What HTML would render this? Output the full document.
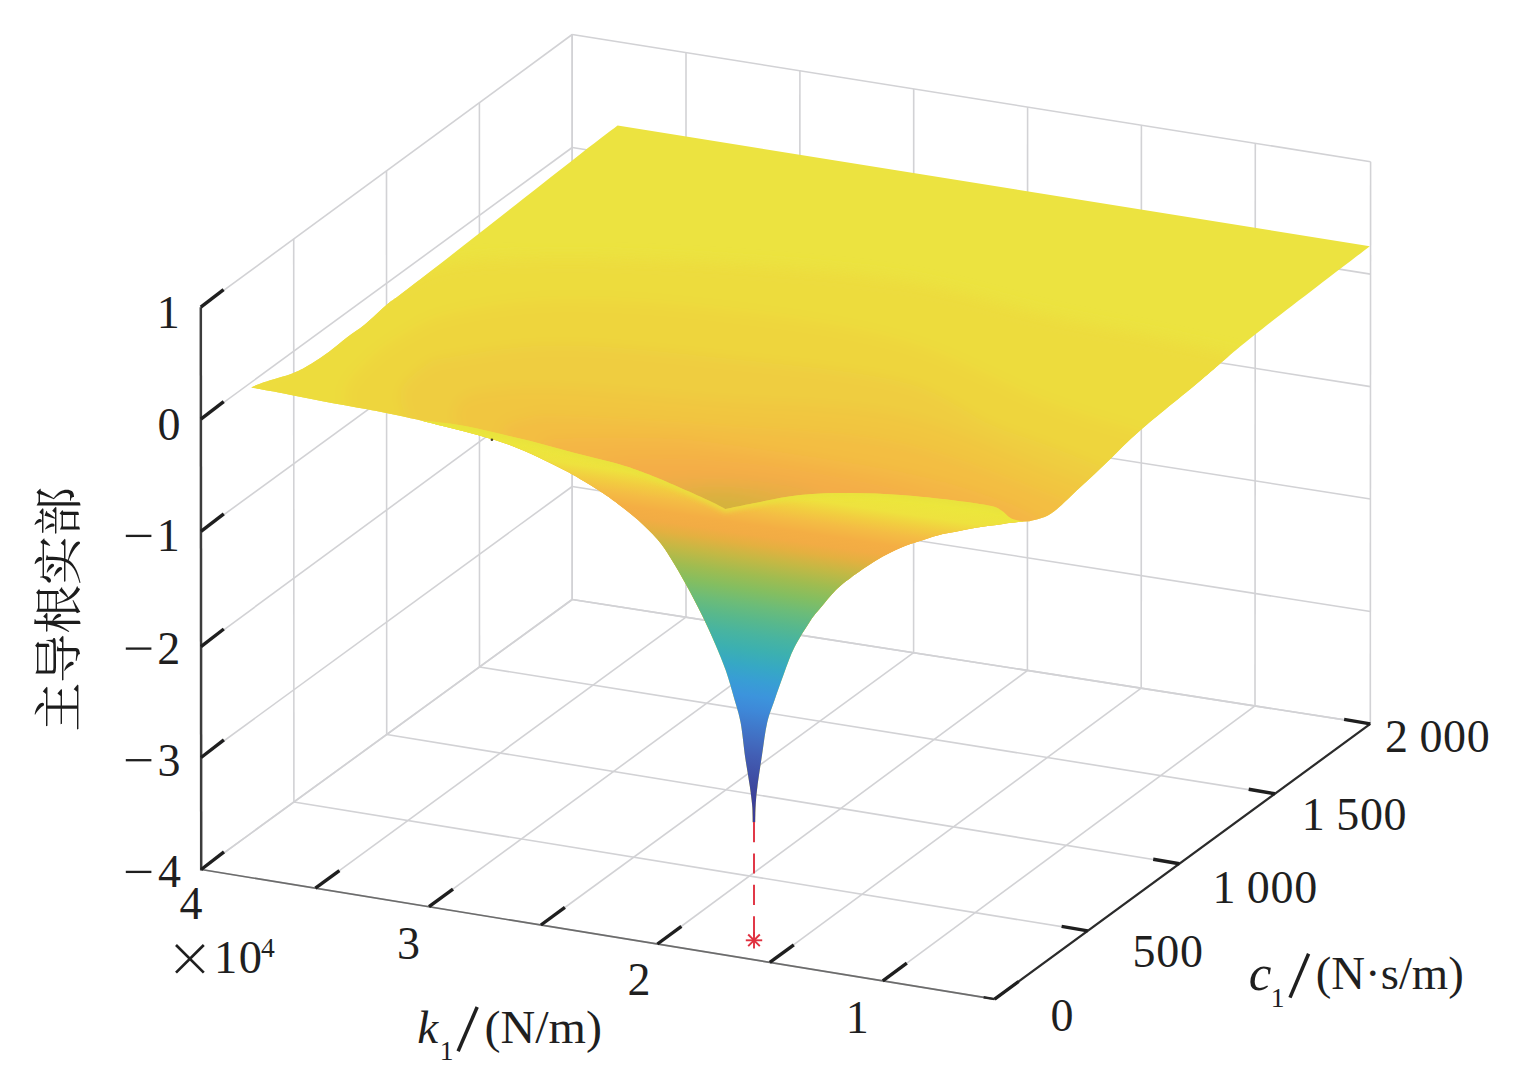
<!DOCTYPE html>
<html><head><meta charset="utf-8"><title>surface</title><style>
html,body{margin:0;padding:0;background:#fff}
svg{display:block}
.grid line{stroke:#d2d2d5;stroke-width:1.6}
.kax{stroke:#6c6c6c;stroke-width:1.6}
.cax{stroke:#2b2b2b;stroke-width:2.2}
.zax{stroke:#3c3c3c;stroke-width:2.5}
.tick{stroke:#1f1f1f;stroke-width:3.4}
.red line{stroke:#e0303f;stroke-width:1.9}
.lbl text{font-family:"Liberation Serif",serif;fill:#1f1f1f}
.sl{stroke:#1f1f1f;stroke-width:3;fill:none}
</style></head><body>
<svg width="1515" height="1089" viewBox="0 0 1515 1089">
<g class="grid"><line x1="201.2" y1="869.5" x2="572.2" y2="599.5"/><line x1="572.2" y1="599.5" x2="572.2" y2="34.5"/><line x1="315.4" y1="888.2" x2="686.0" y2="617.2"/><line x1="686.0" y1="617.2" x2="686.0" y2="52.6"/><line x1="429.0" y1="906.7" x2="799.8" y2="635.0"/><line x1="799.8" y1="635.0" x2="799.9" y2="70.8"/><line x1="540.9" y1="925.0" x2="913.6" y2="652.7"/><line x1="913.6" y1="652.7" x2="913.7" y2="88.9"/><line x1="657.4" y1="944.0" x2="1027.4" y2="670.5"/><line x1="1027.4" y1="670.5" x2="1027.6" y2="107.0"/><line x1="769.8" y1="962.4" x2="1141.2" y2="688.2"/><line x1="1141.2" y1="688.2" x2="1141.4" y2="125.2"/><line x1="882.8" y1="980.8" x2="1255.0" y2="705.9"/><line x1="1255.0" y1="705.9" x2="1255.3" y2="143.3"/><line x1="994.6" y1="999.1" x2="1370.3" y2="723.9"/><line x1="1370.3" y1="723.9" x2="1370.6" y2="161.7"/><line x1="201.2" y1="869.5" x2="994.6" y2="999.1"/><line x1="201.2" y1="869.5" x2="200.8" y2="307.2"/><line x1="293.9" y1="802.0" x2="1087.8" y2="930.9"/><line x1="293.9" y1="802.0" x2="293.7" y2="239.0"/><line x1="386.7" y1="734.5" x2="1179.4" y2="863.7"/><line x1="386.7" y1="734.5" x2="386.5" y2="170.8"/><line x1="479.5" y1="667.0" x2="1274.9" y2="793.8"/><line x1="479.5" y1="667.0" x2="479.4" y2="102.7"/><line x1="572.2" y1="599.5" x2="1370.3" y2="723.9"/><line x1="572.2" y1="599.5" x2="572.2" y2="34.5"/><line x1="201.2" y1="869.5" x2="572.2" y2="599.5"/><line x1="572.2" y1="599.5" x2="1370.3" y2="723.9"/><line x1="201.1" y1="757.5" x2="572.2" y2="486.5"/><line x1="572.2" y1="486.5" x2="1370.4" y2="611.5"/><line x1="201.0" y1="646.6" x2="572.2" y2="373.5"/><line x1="572.2" y1="373.5" x2="1370.4" y2="499.0"/><line x1="201.0" y1="531.4" x2="572.2" y2="260.5"/><line x1="572.2" y1="260.5" x2="1370.5" y2="386.6"/><line x1="200.9" y1="419.2" x2="572.2" y2="147.5"/><line x1="572.2" y1="147.5" x2="1370.5" y2="274.1"/><line x1="200.8" y1="307.2" x2="572.2" y2="34.5"/><line x1="572.2" y1="34.5" x2="1370.6" y2="161.7"/></g>
<defs><clipPath id="wc"><path d="M420,420.2C424.2,420.7 436.7,421.9 445.0,423.0C453.3,424.1 460.9,425.2 470.0,427.0C479.1,428.8 489.8,431.5 499.7,433.8C509.6,436.1 519.5,438.2 529.4,440.7C539.3,443.2 549.2,446.0 559.1,448.7C569.0,451.4 578.6,454.0 588.8,456.6C598.9,459.2 611.5,462.1 620.0,464.5C628.5,466.9 633.5,468.8 640.0,471.2C646.5,473.6 651.1,475.3 659.3,478.7C667.5,482.1 679.1,487.2 689.0,491.6C698.9,496.1 712.7,502.5 718.7,505.4C724.7,508.3 724.1,508.3 725.2,508.9C729.4,508.1 737.7,506.2 750.2,503.9C762.7,501.6 783.6,496.9 800.3,495.1C817.0,493.3 833.8,493.1 850.5,493.1C867.2,493.1 884.0,493.9 900.7,495.1C917.4,496.3 936.2,498.4 950.8,500.1C965.4,501.9 980.0,503.9 988.4,505.6C996.8,507.3 997.2,508.1 1001.0,510.2C1004.8,512.3 1007.2,516.3 1011.0,518.2C1014.8,520.1 1021.5,520.9 1023.6,521.4C1020.2,521.8 1011.1,522.8 1003.1,523.9C995.1,525.0 983.8,526.4 975.9,527.7C968.0,529.0 961.9,530.5 955.6,531.8C949.3,533.0 944.5,533.6 938.3,535.2C932.1,536.8 924.5,539.4 918.2,541.5C911.9,543.6 907.7,544.7 900.7,547.8C893.7,550.9 884.8,555.3 876.4,560.3C868.0,565.3 857.3,572.9 850.5,577.9C843.7,582.9 840.4,585.4 835.4,590.4C830.4,595.4 824.6,603.0 820.4,608.0C816.2,613.0 814.7,614.2 810.4,620.7C806.1,627.2 799.0,638.3 794.6,647.1C790.2,655.9 787.3,664.7 784.0,673.5C780.7,682.3 777.4,691.7 774.6,699.9C771.8,708.1 769.3,713.5 767.2,722.5C765.1,731.5 763.8,743.1 762.2,753.8C760.6,764.5 758.5,778.3 757.4,786.8C756.3,795.2 756.1,799.8 755.7,804.5C755.4,809.2 755.4,812.0 755.3,815.0C755.2,818.0 755.2,821.0 755.2,822.2L752.7,822.2C752.7,821.0 752.7,818.0 752.6,815.0C752.5,812.0 752.6,809.2 752.1,804.5C751.6,799.8 751.0,794.6 749.9,786.8C748.8,779.0 746.8,768.2 745.2,757.5C743.7,746.8 742.4,732.1 740.6,722.5C738.8,712.9 737.1,708.5 734.6,699.9C732.1,691.3 729.1,680.0 725.9,670.8C722.7,661.5 719.3,653.6 715.4,644.4C711.5,635.2 707.1,625.4 702.2,615.4C697.3,605.4 691.1,593.8 686.0,584.5C680.9,575.2 676.2,567.0 671.5,559.5C666.8,552.0 663.2,546.2 657.6,539.6C652.0,533.0 644.4,525.7 637.8,519.8C631.2,513.9 624.6,508.9 618.0,504.0C611.4,499.1 606.5,495.4 598.2,490.1C590.0,484.8 578.4,477.8 568.5,472.3C558.6,466.9 548.7,462.0 538.8,457.4C528.9,452.8 519.0,448.5 509.1,444.8C499.2,441.1 489.3,438.2 479.4,435.4C469.5,432.6 459.6,430.3 449.7,427.8C439.8,425.3 424.9,421.5 420.0,420.2Z"/></clipPath><filter id="b2" x="-5%" y="-30%" width="110%" height="160%"><feGaussianBlur stdDeviation="2.6"/></filter><clipPath id="sc"><path d="M251.3,387.4C253.4,386.5 256.9,384.7 263.8,382.3C270.7,379.9 285.0,376.3 292.9,373.2C300.8,370.1 305.3,367.3 311.3,363.7C317.3,360.1 323.2,356.2 329.1,351.8C335.0,347.4 340.9,342.1 346.9,337.5C352.8,332.9 358.1,330.0 364.8,324.5C371.5,319.0 380.4,310.1 387.3,304.3C394.2,298.6 391.0,301.8 406.3,290.0C421.6,278.2 451.4,255.2 479.0,233.6C506.6,212.0 549.1,178.4 572.2,160.4C595.3,142.4 610.0,131.4 617.6,125.6L1369.8,246.2C1350.6,261.0 1282.6,312.7 1254.5,335.0C1226.4,357.3 1220.2,364.1 1201.2,380.0C1182.2,395.9 1155.6,417.0 1140.4,430.2C1125.2,443.4 1120.2,449.6 1110.1,459.2C1100.0,468.8 1089.8,478.5 1080.0,487.6C1070.2,496.7 1059.5,508.0 1051.1,513.6C1042.7,519.2 1033.1,520.0 1029.5,521.3L1023.6,521.4C1020.2,521.8 1011.1,522.8 1003.1,523.9C995.1,525.0 983.8,526.4 975.9,527.7C968.0,529.0 961.9,530.5 955.6,531.8C949.3,533.0 944.5,533.6 938.3,535.2C932.1,536.8 924.5,539.4 918.2,541.5C911.9,543.6 907.7,544.7 900.7,547.8C893.7,550.9 884.8,555.3 876.4,560.3C868.0,565.3 857.3,572.9 850.5,577.9C843.7,582.9 840.4,585.4 835.4,590.4C830.4,595.4 824.6,603.0 820.4,608.0C816.2,613.0 814.7,614.2 810.4,620.7C806.1,627.2 799.0,638.3 794.6,647.1C790.2,655.9 787.3,664.7 784.0,673.5C780.7,682.3 777.4,691.7 774.6,699.9C771.8,708.1 769.3,713.5 767.2,722.5C765.1,731.5 763.8,743.1 762.2,753.8C760.6,764.5 758.5,778.3 757.4,786.8C756.3,795.2 756.1,799.8 755.7,804.5C755.4,809.2 755.4,812.0 755.3,815.0C755.2,818.0 755.2,821.0 755.2,822.2L752.7,822.2C752.7,821.0 752.7,818.0 752.6,815.0C752.5,812.0 752.6,809.2 752.1,804.5C751.6,799.8 751.0,794.6 749.9,786.8C748.8,779.0 746.8,768.2 745.2,757.5C743.7,746.8 742.4,732.1 740.6,722.5C738.8,712.9 737.1,708.5 734.6,699.9C732.1,691.3 729.1,680.0 725.9,670.8C722.7,661.5 719.3,653.6 715.4,644.4C711.5,635.2 707.1,625.4 702.2,615.4C697.3,605.4 691.1,593.8 686.0,584.5C680.9,575.2 676.2,567.0 671.5,559.5C666.8,552.0 663.2,546.2 657.6,539.6C652.0,533.0 644.4,525.7 637.8,519.8C631.2,513.9 624.6,508.9 618.0,504.0C611.4,499.1 606.5,495.4 598.2,490.1C590.0,484.8 578.4,477.8 568.5,472.3C558.6,466.9 548.7,462.0 538.8,457.4C528.9,452.8 519.0,448.5 509.1,444.8C499.2,441.1 489.3,438.2 479.4,435.4C469.5,432.6 459.6,430.3 449.7,427.8C439.8,425.3 424.9,421.5 420.0,420.2C411.5,418.4 385.2,412.8 368.8,409.6C352.4,406.4 337.1,403.9 321.3,400.9C305.5,397.9 285.5,393.9 273.8,391.6C262.1,389.4 255.1,388.1 251.3,387.4Z"/></clipPath><filter id="bl" x="-10%" y="-10%" width="120%" height="130%"><feGaussianBlur stdDeviation="7"/></filter><linearGradient id="lg" gradientUnits="userSpaceOnUse" x1="760" y1="465.0" x2="707.6" y2="814.1"><stop offset="0.0000" stop-color="#e9e63c"/><stop offset="0.0420" stop-color="#ece63c"/><stop offset="0.0756" stop-color="#eee23e"/><stop offset="0.1092" stop-color="#f2cc40"/><stop offset="0.1373" stop-color="#f4bc44"/><stop offset="0.1709" stop-color="#f4ae44"/><stop offset="0.1989" stop-color="#f2ac44"/><stop offset="0.2269" stop-color="#e4b040"/><stop offset="0.2661" stop-color="#c4b844"/><stop offset="0.3109" stop-color="#a0bc50"/><stop offset="0.3529" stop-color="#84be60"/><stop offset="0.3950" stop-color="#6cbc78"/><stop offset="0.4370" stop-color="#58b88c"/><stop offset="0.4790" stop-color="#48b4a0"/><stop offset="0.5210" stop-color="#3cb0b0"/><stop offset="0.5658" stop-color="#36a8c4"/><stop offset="0.6078" stop-color="#389ed4"/><stop offset="0.6499" stop-color="#3c94dc"/><stop offset="0.6919" stop-color="#3e88d8"/><stop offset="0.7339" stop-color="#407acc"/><stop offset="0.7759" stop-color="#426cc0"/><stop offset="0.8179" stop-color="#425eb4"/><stop offset="0.8627" stop-color="#4052a8"/><stop offset="0.9048" stop-color="#3e489e"/><stop offset="0.9468" stop-color="#3c4098"/><stop offset="1.0000" stop-color="#3a3a94"/></linearGradient></defs><path d="M251.3,387.4C253.4,386.5 256.9,384.7 263.8,382.3C270.7,379.9 285.0,376.3 292.9,373.2C300.8,370.1 305.3,367.3 311.3,363.7C317.3,360.1 323.2,356.2 329.1,351.8C335.0,347.4 340.9,342.1 346.9,337.5C352.8,332.9 358.1,330.0 364.8,324.5C371.5,319.0 380.4,310.1 387.3,304.3C394.2,298.6 391.0,301.8 406.3,290.0C421.6,278.2 451.4,255.2 479.0,233.6C506.6,212.0 549.1,178.4 572.2,160.4C595.3,142.4 610.0,131.4 617.6,125.6L1369.8,246.2C1350.6,261.0 1282.6,312.7 1254.5,335.0C1226.4,357.3 1220.2,364.1 1201.2,380.0C1182.2,395.9 1155.6,417.0 1140.4,430.2C1125.2,443.4 1120.2,449.6 1110.1,459.2C1100.0,468.8 1089.8,478.5 1080.0,487.6C1070.2,496.7 1059.5,508.0 1051.1,513.6C1042.7,519.2 1033.1,520.0 1029.5,521.3L1023.6,521.4C1020.2,521.8 1011.1,522.8 1003.1,523.9C995.1,525.0 983.8,526.4 975.9,527.7C968.0,529.0 961.9,530.5 955.6,531.8C949.3,533.0 944.5,533.6 938.3,535.2C932.1,536.8 924.5,539.4 918.2,541.5C911.9,543.6 907.7,544.7 900.7,547.8C893.7,550.9 884.8,555.3 876.4,560.3C868.0,565.3 857.3,572.9 850.5,577.9C843.7,582.9 840.4,585.4 835.4,590.4C830.4,595.4 824.6,603.0 820.4,608.0C816.2,613.0 814.7,614.2 810.4,620.7C806.1,627.2 799.0,638.3 794.6,647.1C790.2,655.9 787.3,664.7 784.0,673.5C780.7,682.3 777.4,691.7 774.6,699.9C771.8,708.1 769.3,713.5 767.2,722.5C765.1,731.5 763.8,743.1 762.2,753.8C760.6,764.5 758.5,778.3 757.4,786.8C756.3,795.2 756.1,799.8 755.7,804.5C755.4,809.2 755.4,812.0 755.3,815.0C755.2,818.0 755.2,821.0 755.2,822.2L752.7,822.2C752.7,821.0 752.7,818.0 752.6,815.0C752.5,812.0 752.6,809.2 752.1,804.5C751.6,799.8 751.0,794.6 749.9,786.8C748.8,779.0 746.8,768.2 745.2,757.5C743.7,746.8 742.4,732.1 740.6,722.5C738.8,712.9 737.1,708.5 734.6,699.9C732.1,691.3 729.1,680.0 725.9,670.8C722.7,661.5 719.3,653.6 715.4,644.4C711.5,635.2 707.1,625.4 702.2,615.4C697.3,605.4 691.1,593.8 686.0,584.5C680.9,575.2 676.2,567.0 671.5,559.5C666.8,552.0 663.2,546.2 657.6,539.6C652.0,533.0 644.4,525.7 637.8,519.8C631.2,513.9 624.6,508.9 618.0,504.0C611.4,499.1 606.5,495.4 598.2,490.1C590.0,484.8 578.4,477.8 568.5,472.3C558.6,466.9 548.7,462.0 538.8,457.4C528.9,452.8 519.0,448.5 509.1,444.8C499.2,441.1 489.3,438.2 479.4,435.4C469.5,432.6 459.6,430.3 449.7,427.8C439.8,425.3 424.9,421.5 420.0,420.2C411.5,418.4 385.2,412.8 368.8,409.6C352.4,406.4 337.1,403.9 321.3,400.9C305.5,397.9 285.5,393.9 273.8,391.6C262.1,389.4 255.1,388.1 251.3,387.4Z" fill="#ece340"/><g clip-path="url(#sc)"><g filter="url(#bl)"><path d="M236,388C244.7,383.7 271.0,371.8 288.0,362.0C305.0,352.2 320.7,341.2 338.0,329.0C355.3,316.8 373.3,299.8 392.0,289.0C410.7,278.2 422.0,269.2 450.0,264.0C478.0,258.8 515.8,258.2 560.0,258.0C604.2,257.8 658.3,259.3 715.0,263.0C771.7,266.7 844.2,271.2 900.0,280.0C955.8,288.8 1008.3,306.7 1050.0,316.0C1091.7,325.3 1118.3,329.3 1150.0,336.0C1181.7,342.7 1225.0,352.7 1240.0,356.0L1280,416L1280,640L196,640L196,428Z" fill="#eddc3e"/><path d="M352,420C351.0,415.0 343.3,399.7 346.0,390.0C348.7,380.3 359.0,370.7 368.0,362.0C377.0,353.3 386.3,345.8 400.0,338.0C413.7,330.2 423.3,321.2 450.0,315.0C476.7,308.8 515.8,301.8 560.0,301.0C604.2,300.2 658.3,303.3 715.0,310.0C771.7,316.7 844.2,325.3 900.0,341.0C955.8,356.7 1008.3,388.2 1050.0,404.0C1091.7,419.8 1127.5,428.0 1150.0,436.0C1172.5,444.0 1179.2,449.3 1185.0,452.0L1225,512L1225,640L312,640L312,460Z" fill="#eed53e"/><path d="M410,428C408.3,422.0 397.7,402.3 400.0,392.0C402.3,381.7 415.7,371.8 424.0,366.0C432.3,360.2 427.3,360.5 450.0,357.0C472.7,353.5 515.8,345.0 560.0,345.0C604.2,345.0 658.3,351.0 715.0,357.0C771.7,363.0 854.2,369.8 900.0,381.0C945.8,392.2 965.0,413.2 990.0,424.0C1015.0,434.8 1027.5,437.3 1050.0,446.0C1072.5,454.7 1112.5,471.0 1125.0,476.0L1165,536L1165,640L370,640L370,468Z" fill="#efcd3f"/><path d="M460,438C459.2,433.0 451.7,415.7 455.0,408.0C458.3,400.3 462.5,395.3 480.0,392.0C497.5,388.7 520.8,386.7 560.0,388.0C599.2,389.3 658.3,395.5 715.0,400.0C771.7,404.5 844.2,403.3 900.0,415.0C955.8,426.7 1016.7,457.5 1050.0,470.0C1083.3,482.5 1091.7,486.7 1100.0,490.0L1140,550L1140,640L420,640L420,478Z" fill="#f1c641"/><path d="M510,452C508.8,448.0 499.7,433.7 503.0,428.0C506.3,422.3 520.5,420.0 530.0,418.0C539.5,416.0 529.2,414.8 560.0,416.0C590.8,417.2 658.3,420.5 715.0,425.0C771.7,429.5 844.2,431.5 900.0,443.0C955.8,454.5 1021.3,483.2 1050.0,494.0C1078.7,504.8 1068.3,505.7 1072.0,508.0L1112,568L1112,640L470,640L470,492Z" fill="#f3be43"/><path d="M548,462C547.2,459.0 541.0,447.8 543.0,444.0C545.0,440.2 543.8,440.0 560.0,439.0C576.2,438.0 614.2,437.3 640.0,438.0C665.8,438.7 671.7,437.3 715.0,443.0C758.3,448.7 852.5,462.5 900.0,472.0C947.5,481.5 975.8,491.7 1000.0,500.0C1024.2,508.3 1037.5,518.3 1045.0,522.0L1085,582L1085,640L508,640L508,502Z" fill="#f4b545"/><path d="M600,478C599.7,475.7 591.3,467.2 598.0,464.0C604.7,460.8 620.5,459.7 640.0,459.0C659.5,458.3 688.3,458.2 715.0,460.0C741.7,461.8 769.2,465.0 800.0,470.0C830.8,475.0 877.5,484.0 900.0,490.0C922.5,496.0 929.2,503.3 935.0,506.0L975,566L975,640L560,640L560,518Z" fill="#f4ad46"/><path d="M650,496C650.8,494.0 644.2,486.7 655.0,484.0C665.8,481.3 695.8,480.0 715.0,480.0C734.2,480.0 755.8,482.5 770.0,484.0C784.2,485.5 790.7,486.3 800.0,489.0C809.3,491.7 821.7,498.2 826.0,500.0L866,560L866,640L610,640L610,536Z" fill="#e8ae44"/><path d="M680,502C681.3,500.5 682.2,495.0 688.0,493.0C693.8,491.0 704.7,490.0 715.0,490.0C725.3,490.0 740.8,491.8 750.0,493.0C759.2,494.2 764.3,495.2 770.0,497.0C775.7,498.8 781.7,502.8 784.0,504.0L824,564L824,640L640,640L640,542Z" fill="#ddb040"/><path d="M700,508C701.0,506.7 703.5,501.6 706.0,500.0C708.5,498.4 710.2,498.5 715.0,498.5C719.8,498.5 729.5,499.1 735.0,500.0C740.5,500.9 745.2,502.3 748.0,504.0C750.8,505.7 751.3,509.0 752.0,510.0L792,570L792,640L660,640L660,548Z" fill="#d4b23c"/></g></g><path d="M420,420.2C424.2,420.7 436.7,421.9 445.0,423.0C453.3,424.1 460.9,425.2 470.0,427.0C479.1,428.8 489.8,431.5 499.7,433.8C509.6,436.1 519.5,438.2 529.4,440.7C539.3,443.2 549.2,446.0 559.1,448.7C569.0,451.4 578.6,454.0 588.8,456.6C598.9,459.2 611.5,462.1 620.0,464.5C628.5,466.9 633.5,468.8 640.0,471.2C646.5,473.6 651.1,475.3 659.3,478.7C667.5,482.1 679.1,487.2 689.0,491.6C698.9,496.1 712.7,502.5 718.7,505.4C724.7,508.3 724.1,508.3 725.2,508.9C729.4,508.1 737.7,506.2 750.2,503.9C762.7,501.6 783.6,496.9 800.3,495.1C817.0,493.3 833.8,493.1 850.5,493.1C867.2,493.1 884.0,493.9 900.7,495.1C917.4,496.3 936.2,498.4 950.8,500.1C965.4,501.9 980.0,503.9 988.4,505.6C996.8,507.3 997.2,508.1 1001.0,510.2C1004.8,512.3 1007.2,516.3 1011.0,518.2C1014.8,520.1 1021.5,520.9 1023.6,521.4C1020.2,521.8 1011.1,522.8 1003.1,523.9C995.1,525.0 983.8,526.4 975.9,527.7C968.0,529.0 961.9,530.5 955.6,531.8C949.3,533.0 944.5,533.6 938.3,535.2C932.1,536.8 924.5,539.4 918.2,541.5C911.9,543.6 907.7,544.7 900.7,547.8C893.7,550.9 884.8,555.3 876.4,560.3C868.0,565.3 857.3,572.9 850.5,577.9C843.7,582.9 840.4,585.4 835.4,590.4C830.4,595.4 824.6,603.0 820.4,608.0C816.2,613.0 814.7,614.2 810.4,620.7C806.1,627.2 799.0,638.3 794.6,647.1C790.2,655.9 787.3,664.7 784.0,673.5C780.7,682.3 777.4,691.7 774.6,699.9C771.8,708.1 769.3,713.5 767.2,722.5C765.1,731.5 763.8,743.1 762.2,753.8C760.6,764.5 758.5,778.3 757.4,786.8C756.3,795.2 756.1,799.8 755.7,804.5C755.4,809.2 755.4,812.0 755.3,815.0C755.2,818.0 755.2,821.0 755.2,822.2L752.7,822.2C752.7,821.0 752.7,818.0 752.6,815.0C752.5,812.0 752.6,809.2 752.1,804.5C751.6,799.8 751.0,794.6 749.9,786.8C748.8,779.0 746.8,768.2 745.2,757.5C743.7,746.8 742.4,732.1 740.6,722.5C738.8,712.9 737.1,708.5 734.6,699.9C732.1,691.3 729.1,680.0 725.9,670.8C722.7,661.5 719.3,653.6 715.4,644.4C711.5,635.2 707.1,625.4 702.2,615.4C697.3,605.4 691.1,593.8 686.0,584.5C680.9,575.2 676.2,567.0 671.5,559.5C666.8,552.0 663.2,546.2 657.6,539.6C652.0,533.0 644.4,525.7 637.8,519.8C631.2,513.9 624.6,508.9 618.0,504.0C611.4,499.1 606.5,495.4 598.2,490.1C590.0,484.8 578.4,477.8 568.5,472.3C558.6,466.9 548.7,462.0 538.8,457.4C528.9,452.8 519.0,448.5 509.1,444.8C499.2,441.1 489.3,438.2 479.4,435.4C469.5,432.6 459.6,430.3 449.7,427.8C439.8,425.3 424.9,421.5 420.0,420.2Z" fill="url(#lg)"/><g clip-path="url(#wc)"><path d="M390,412.2L420,420.2C424.2,420.7 436.7,421.9 445.0,423.0C453.3,424.1 460.9,425.2 470.0,427.0C479.1,428.8 489.8,431.5 499.7,433.8C509.6,436.1 519.5,438.2 529.4,440.7C539.3,443.2 549.2,446.0 559.1,448.7C569.0,451.4 578.6,454.0 588.8,456.6C598.9,459.2 611.5,462.1 620.0,464.5C628.5,466.9 633.5,468.8 640.0,471.2C646.5,473.6 651.1,475.3 659.3,478.7C667.5,482.1 679.1,487.2 689.0,491.6C698.9,496.1 712.7,502.5 718.7,505.4C724.7,508.3 724.1,508.3 725.2,508.9C729.4,508.1 737.7,506.2 750.2,503.9C762.7,501.6 783.6,496.9 800.3,495.1C817.0,493.3 833.8,493.1 850.5,493.1C867.2,493.1 884.0,493.9 900.7,495.1C917.4,496.3 936.2,498.4 950.8,500.1C965.4,501.9 980.0,503.9 988.4,505.6C996.8,507.3 998.9,509.4 1001.0,510.2" fill="none" stroke="#e9e23c" stroke-width="6.5" stroke-opacity="0.85" filter="url(#b2)"/></g><circle cx="491.9" cy="439.8" r="1.3" fill="#4a4020"/>
<g class="axes"><line x1="201.2" y1="869.5" x2="994.6" y2="999.1" class="kax"/><line x1="994.6" y1="999.1" x2="1370.3" y2="723.9" class="cax"/><line x1="201.2" y1="870.5" x2="200.8" y2="307.2" class="zax"/><line x1="201.2" y1="869.5" x2="224.0" y2="851.9" class="tick"/><line x1="201.1" y1="757.5" x2="223.9" y2="739.9" class="tick"/><line x1="201.0" y1="646.6" x2="223.8" y2="629.0" class="tick"/><line x1="201.0" y1="531.4" x2="223.8" y2="513.8" class="tick"/><line x1="200.9" y1="419.2" x2="223.7" y2="401.6" class="tick"/><line x1="200.8" y1="307.2" x2="223.6" y2="289.6" class="tick"/><line x1="315.4" y1="888.2" x2="339.4" y2="870.6" class="tick"/><line x1="429.0" y1="906.7" x2="453.0" y2="889.1" class="tick"/><line x1="540.9" y1="925.0" x2="564.9" y2="907.4" class="tick"/><line x1="657.4" y1="944.0" x2="681.4" y2="926.4" class="tick"/><line x1="769.8" y1="962.4" x2="793.8" y2="944.8" class="tick"/><line x1="882.8" y1="980.8" x2="906.8" y2="963.2" class="tick"/><line x1="994.6" y1="999.1" x2="1018.6" y2="981.5" class="tick"/><line x1="1087.8" y1="930.9" x2="1061.6" y2="926.4" class="tick"/><line x1="1179.4" y1="863.7" x2="1153.2" y2="859.2" class="tick"/><line x1="1274.9" y1="793.8" x2="1248.7" y2="789.3" class="tick"/><line x1="1370.3" y1="723.9" x2="1344.1" y2="719.4" class="tick"/><line x1="994.6" y1="999.1" x2="983.6" y2="997.3" stroke="#2a2a2a" stroke-width="2.4"/></g>
<g class="red"><line x1="754.0" y1="822" x2="754.0" y2="940.3" stroke-dasharray="20.2 11.2"/><line x1="745.8" y1="940.3" x2="762.2" y2="940.3"/><line x1="748.2" y1="934.5" x2="759.8" y2="946.1"/><line x1="754.0" y1="932.1" x2="754.0" y2="948.5"/><line x1="759.8" y1="934.5" x2="748.2" y2="946.1"/></g>
<g class="lbl" font-size="46"><text x="180.9" y="887.2" text-anchor="end">4</text><path d="M125.8,871.9H151.4" class="sl" style="stroke-width:2.3"/><text x="180.4" y="775.5" text-anchor="end">3</text><path d="M125.8,760.2H151.4" class="sl" style="stroke-width:2.3"/><text x="180.2" y="663.9" text-anchor="end">2</text><path d="M125.8,648.6H151.4" class="sl" style="stroke-width:2.3"/><text x="179.7" y="551.2" text-anchor="end">1</text><path d="M125.8,535.9H151.4" class="sl" style="stroke-width:2.3"/><text x="180.5" y="440.0" text-anchor="end">0</text><text x="179.7" y="327.8" text-anchor="end">1</text><text x="190.9" y="919" text-anchor="middle">4</text><text x="408.4" y="959.4" text-anchor="middle">3</text><text x="639" y="995" text-anchor="middle">2</text><text x="857.3" y="1032.6" text-anchor="middle">1</text><text x="1050.6" y="1031.3" letter-spacing="0.7" word-spacing="-1.5">0</text><text x="1132.6" y="967.2" letter-spacing="0.7" word-spacing="-1.5">500</text><text x="1212.4" y="903.4" letter-spacing="0.7" word-spacing="-1.5">1 000</text><text x="1301.8" y="830.2" letter-spacing="0.7" word-spacing="-1.5">1 500</text><text x="1385" y="752.3" letter-spacing="0.7" word-spacing="-1.5">2 000</text><path d="M176,945L203.8,972.6M176,972.6L203.8,945" class="sl" style="stroke-width:2.7"/><text x="214" y="972.9" letter-spacing="1.4" font-size="46.5">10</text><text x="260.9" y="956.5" font-size="27.6">4</text><text x="417.2" y="1042.6" font-style="italic" font-size="47">k</text><text x="446.6" y="1060.4" font-size="27.5" text-anchor="middle">1</text><path d="M458.1,1051.2L477.2,1007" class="sl" style="stroke-width:3.5"/><text x="484.4" y="1042.7" textLength="117.6" lengthAdjust="spacingAndGlyphs">(N/m)</text><text x="1248.8" y="989.5" font-style="italic" font-size="51">c</text><text x="1277.7" y="1006.7" font-size="27.5" text-anchor="middle">1</text><path d="M1290,997.6L1308.6,953.8" class="sl" style="stroke-width:3.5"/><text x="1315.8" y="989.3" textLength="148" lengthAdjust="spacingAndGlyphs">(N·s/m)</text></g>
<text transform="translate(75.5,731.6) rotate(-90)" x="0" y="0" font-size="48.9" fill="#1c1c1c" textLength="244.5" lengthAdjust="spacingAndGlyphs" style="font-family:'Liberation Serif','Noto Serif CJK SC',serif">主导根实部</text>
</svg>
</body></html>
